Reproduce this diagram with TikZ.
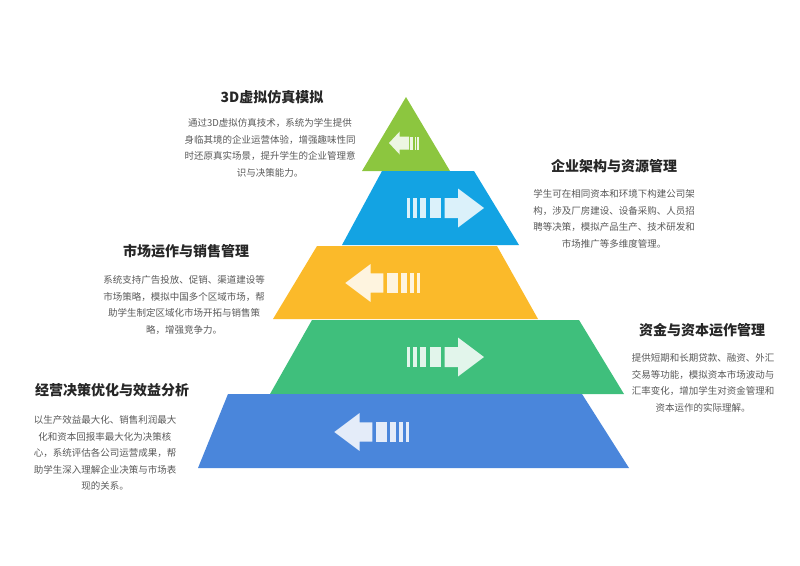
\documentclass[tikz,border=0pt]{standalone}
\usepackage{fontspec}
\setmainfont{Noto Sans CJK SC}
\usetikzlibrary{positioning}
\definecolor{layertop}{HTML}{8CC63F}
\definecolor{layertwo}{HTML}{13A3E3}
\definecolor{layerthree}{HTML}{FBBA2A}
\definecolor{layerfour}{HTML}{3FBF7C}
\definecolor{layerbase}{HTML}{4A86DB}
\tikzset{
    layer title/.style={font=\fontsize{14}{16}\selectfont\bfseries, text=black!85, inner sep=0pt},
    layer text/.style={font=\fontsize{9.5}{16.5}\selectfont, text=black!65, align=center, inner sep=0pt},
    arrow fill/.style={fill=white, fill opacity=0.85},
    stripe arrow/.pic={
        \fill[arrow fill] (0,-10) rectangle (3,10);
        \fill[arrow fill] (6.3,-10) rectangle (10,10);
        \fill[arrow fill] (13,-10) rectangle (19.3,10);
        \fill[arrow fill] (23,-10) rectangle (34.3,10);
        \fill[arrow fill] (37.7,-10) -- (51,-10) -- (51,-19.5) -- (77,0) -- (51,19.5) -- (51,10) -- (37.7,10) -- cycle;
    },
    small stripe arrow/.pic={
        \fill[arrow fill] (0,-6.5) rectangle (1.7,6.5);
        \fill[arrow fill] (2.8,-6.5) rectangle (4.4,6.5);
        \fill[arrow fill] (5.8,-6.5) rectangle (8.7,6.5);
        \fill[arrow fill] (10,-6.5) -- (19.3,-6.5) -- (19.3,-11.5) -- (30,0) -- (19.3,11.5) -- (19.3,6.5) -- (10,6.5) -- cycle;
    }
}
\begin{document}
\begin{tikzpicture}[x=1pt, y=-1pt]
\useasboundingbox (0,0) rectangle (800,565);

% pyramid layers, top to bottom
\fill[layertop] (406,97) -- (450,171) -- (362,171) -- cycle;
\fill[layertwo] (382,171) -- (474,171) -- (519,245) -- (342,245) -- cycle;
\fill[layerthree] (317,246) -- (497,246) -- (538,319) -- (273,319) -- cycle;
\fill[layerfour] (312,320) -- (579,320) -- (624,394) -- (270,394) -- cycle;
\fill[layerbase] (228,394) -- (582,394) -- (629,468) -- (198,468) -- cycle;

\pic[xscale=-1] at (419,143) {small stripe arrow};
\pic at (407,208) {stripe arrow};
\pic[scale=0.97] at (420,283) [xscale=-1] {stripe arrow};
\pic at (407,357) {stripe arrow};
\pic[scale=0.97] at (409,432) [xscale=-1] {stripe arrow};

% labels
\node[layer title] (sim title) at (272,97) {3D虚拟仿真模拟};
\node[layer text] (sim text) at (270,148) {通过3D虚拟仿真技术，系统为学生提供\\身临其境的企业运营体验，增强趣味性同\\时还原真实场景，提升学生的企业管理意\\识与决策能力。};

\node[layer title] (org title) at (614,166) {企业架构与资源管理};
\node[layer text] (org text) at (614,219) {学生可在相同资本和环境下构建公司架\\构，涉及厂房建设、设备采购、人员招\\聘等决策，模拟产品生产、技术研发和\\市场推广等多维度管理。};

\node[layer title] (market title) at (186,251) {市场运作与销售管理};
\node[layer text] (market text) at (184,305) {系统支持广告投放、促销、渠道建设等\\市场策略，模拟中国多个区域市场，帮\\助学生制定区域化市场开拓与销售策\\略，增强竞争力。};

\node[layer title] (fund title) at (702,330) {资金与资本运作管理};
\node[layer text] (fund text) at (703,383) {提供短期和长期贷款、融资、外汇\\交易等功能，模拟资本市场波动与\\汇率变化，增加学生对资金管理和\\资本运作的实际理解。};

\node[layer title] (profit title) at (112,390) {经营决策优化与效益分析};
\node[layer text] (profit text) at (105,453) {以生产效益最大化、销售利润最大\\化和资本回报率最大化为决策核\\心，系统评估各公司运营成果，帮\\助学生深入理解企业决策与市场表\\现的关系。};

\end{tikzpicture}
\end{document}
